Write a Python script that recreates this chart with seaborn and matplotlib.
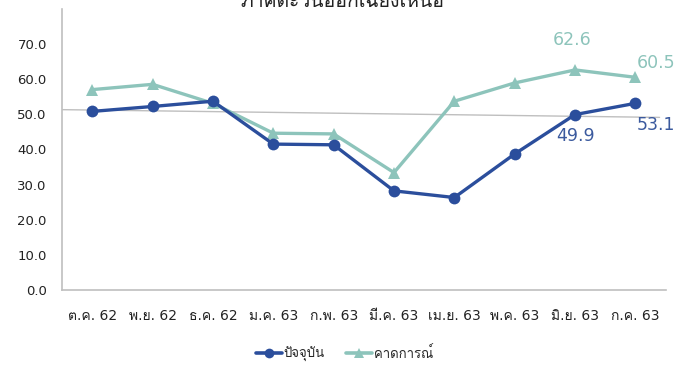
import matplotlib
matplotlib.use("Agg")
import matplotlib.pyplot as plt
import seaborn as sns
import pandas as pd
from matplotlib.lines import Line2D

months = ["ต.ค. 62", "พ.ย. 62", "ธ.ค. 62", "ม.ค. 63", "ก.พ. 63",
          "มี.ค. 63", "เม.ย. 63", "พ.ค. 63", "มิ.ย. 63", "ก.ค. 63"]
current = [50.8, 52.2, 53.7, 41.5, 41.3, 28.2, 26.3, 38.7, 49.9, 53.1]
forecast = [57.0, 58.5, 53.1, 44.6, 44.4, 33.4, 53.7, 58.9, 62.6, 60.5]
trend_x = [-0.5, 9.4]
trend_y = [51.3, 49.1]
y_ticks = [0, 10, 20, 30, 40, 50, 60, 70]
title = "ภาคตะวันออกเฉียงเหนือ"
series_names = ["ปัจจุบัน", "คาดการณ์"]

sns.set_theme(style="white")
plt.rcParams["font.family"] = ["DejaVu Sans", "Loma"]

BLUE = "#2B4E9C"
TEAL = "#8DC4BB"
GRID = "#BFBFBF"

df = pd.DataFrame({"x": list(range(len(months))) * 2,
                   "value": current + forecast,
                   "series": [series_names[0]] * len(months) + [series_names[1]] * len(months)})

fig = plt.figure(figsize=(6.9, 3.65), dpi=100)
ax = fig.add_axes([0.0899, 0.2055, 0.8747, 0.7705])

ax.plot(trend_x, trend_y, color=GRID, lw=1.0, zorder=1)
sns.lineplot(data=df[df.series == series_names[1]], x="x", y="value", ax=ax,
             color=TEAL, lw=2.4, marker="^", markersize=8.5, markeredgewidth=0,
             legend=False, zorder=3)
sns.lineplot(data=df[df.series == series_names[0]], x="x", y="value", ax=ax,
             color=BLUE, lw=2.4, marker="o", markersize=8.5, markeredgewidth=0,
             legend=False, zorder=4)

ax.set_xlim(-0.5, 9.5)
ax.set_ylim(0, 80)
ax.set_yticks(y_ticks)
ax.set_yticklabels([f"{v:.1f}" for v in y_ticks], fontsize=9.5, color="#222222")
ax.set_xticks(range(len(months)))
ax.set_xticklabels(months, fontsize=10, color="#222222")
ax.tick_params(axis="both", length=0)
ax.tick_params(axis="y", pad=11)
ax.tick_params(axis="x", pad=14)
ax.set_xlabel("")
ax.set_ylabel("")
for s in ["top", "right"]:
    ax.spines[s].set_visible(False)
for s in ["left", "bottom"]:
    ax.spines[s].set_color(GRID)
    ax.spines[s].set_linewidth(1.2)

# data labels
ax.annotate(f"{forecast[8]:.1f}", (8, forecast[8]), xytext=(-2, 15), textcoords="offset points",
            ha="center", va="bottom", fontsize=12.5, color=TEAL)
ax.annotate(f"{forecast[9]:.1f}", (9, forecast[9]), xytext=(1, 4), textcoords="offset points",
            ha="left", va="bottom", fontsize=12.5, color=TEAL)
ax.annotate(f"{current[8]:.1f}", (8, current[8]), xytext=(0, -9), textcoords="offset points",
            ha="center", va="top", fontsize=12.5, color="#3B5A9E")
ax.annotate(f"{current[9]:.1f}", (9, current[9]), xytext=(1, -9), textcoords="offset points",
            ha="left", va="top", fontsize=12.5, color="#3B5A9E")

fig.text(0.496, 1 - 7 / 365, title, ha="center", va="baseline", fontsize=14, color="#222222")

handles = [Line2D([], [], color=BLUE, lw=2.6, marker="o", markersize=7, markeredgewidth=0),
           Line2D([], [], color=TEAL, lw=2.6, marker="^", markersize=7, markeredgewidth=0)]
fig.legend(handles, series_names, loc="center", bbox_to_anchor=(0.499, 1 - 354 / 365),
           ncol=2, frameon=False, fontsize=9.5, handlelength=2.0, handletextpad=0.1,
           columnspacing=1.6)

fig.savefig("out.png", dpi=100)
